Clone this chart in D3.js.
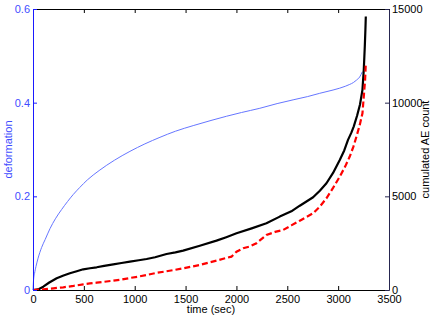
<!DOCTYPE html>
<html>
<head>
<meta charset="utf-8">
<script src="https://cdn.jsdelivr.net/npm/d3@7"></script>
<style>
html,body{margin:0;padding:0;background:#fff;}
svg{display:block;font-family:"Liberation Sans",Arial,Helvetica,sans-serif;}
</style>
</head>
<body>
<svg id="chart" width="436" height="318"></svg>
<script>
// ---- data ----
const xTicks = [0, 500, 1000, 1500, 2000, 2500, 3000, 3500];
const leftTicks = [0, 0.2, 0.4, 0.6];
const rightTicks = [0, 5000, 10000, 15000];

const defTime = [0, 5, 15, 29, 50, 85, 120, 167, 220, 282, 340, 396, 460, 534, 650, 800, 953, 1100, 1248, 1400, 1575, 1750, 1903, 2050, 2230, 2400, 2557, 2700, 2819, 2950, 3016, 3070, 3114, 3150, 3180, 3212, 3238];
const defValue = [0, 0.02, 0.035, 0.05, 0.068, 0.091, 0.108, 0.131, 0.152, 0.172, 0.189, 0.204, 0.219, 0.235, 0.255, 0.277, 0.296, 0.312, 0.326, 0.339, 0.351, 0.362, 0.371, 0.379, 0.388, 0.398, 0.406, 0.413, 0.420, 0.427, 0.431, 0.435, 0.439, 0.443, 0.448, 0.455, 0.466];

const aeTime = [0, 50, 101, 160, 233, 300, 363, 430, 494, 560, 626, 700, 789, 870, 953, 1040, 1117, 1200, 1313, 1400, 1476, 1640, 1804, 1900, 2001, 2150, 2295, 2426, 2540, 2623, 2754, 2820, 2885, 2950, 3016, 3060, 3097, 3130, 3153, 3186, 3215, 3239, 3252, 3262, 3268, 3272];
const aeCount = [0, 30, 176, 400, 625, 770, 892, 1000, 1105, 1160, 1212, 1290, 1371, 1440, 1514, 1590, 1656, 1750, 1923, 2010, 2100, 2360, 2634, 2820, 3028, 3290, 3562, 3917, 4200, 4500, 4950, 5300, 5697, 6250, 6944, 7450, 8013, 8400, 8725, 9300, 9900, 10684, 11752, 13000, 13889, 14600];

const ae2Time = [0, 100, 200, 298, 400, 494, 560, 626, 700, 789, 870, 953, 1040, 1117, 1200, 1313, 1400, 1476, 1560, 1640, 1720, 1804, 1880, 1951, 2001, 2066, 2130, 2197, 2295, 2380, 2459, 2540, 2623, 2754, 2820, 2885, 2950, 3016, 3070, 3114, 3150, 3180, 3212, 3239, 3252, 3265, 3272];
const ae2Count = [0, 40, 90, 144, 220, 304, 350, 390, 440, 497, 560, 641, 720, 801, 900, 1000, 1080, 1159, 1250, 1335, 1450, 1565, 1680, 1779, 2046, 2228, 2320, 2495, 2938, 3100, 3205, 3450, 3700, 4095, 4450, 4897, 5450, 6053, 6600, 7122, 7650, 8190, 8800, 9437, 10326, 11218, 12110];

// ---- layout ----
const L = 33, R = 389, T = 9, B = 290;
const svg = d3.select("#chart");
const x = d3.scaleLinear().domain([0, 3500]).range([L, R]);
const yL = d3.scaleLinear().domain([0, 0.6]).range([B, T]);
const yR = d3.scaleLinear().domain([0, 15000]).range([B, T]);

const blueAxis = "#1a1aff", blueText = "#3f4dff";

// lines
const line = (xs, ys, sc, curve) => d3.line().curve(curve).x((d, i) => x(xs[i])).y((d, i) => sc(ys[i]))(ys);

svg.append("path").attr("d", line(defTime, defValue, yL, d3.curveMonotoneX))
  .attr("fill", "none").attr("stroke", "#6676ff").attr("stroke-width", 1);
svg.append("path").attr("d", line(aeTime, aeCount, yR, d3.curveLinear))
  .attr("fill", "none").attr("stroke", "#000").attr("stroke-width", 2.2).attr("stroke-linejoin", "round");
svg.append("path").attr("d", line(ae2Time, ae2Count, yR, d3.curveLinear))
  .attr("fill", "none").attr("stroke", "#ff0000").attr("stroke-width", 2.2).attr("stroke-dasharray", "6,3");

// axes
function style(g, color, textColor) {
  g.selectAll(".domain").attr("stroke", color).attr("stroke-width", 1);
  g.selectAll(".tick line").attr("stroke", color);
  g.selectAll(".tick text").attr("fill", textColor).style("font-size", "11px").style("font-family", "Liberation Sans, Arial, sans-serif");
}

const gTop = svg.append("g").attr("transform", `translate(0,${T})`)
  .call(d3.axisTop(x).tickValues(xTicks).tickSizeInner(-4).tickSizeOuter(0).tickFormat(""));
style(gTop, "#000", "#000");

const gBottom = svg.append("g").attr("transform", `translate(0,${B})`)
  .call(d3.axisBottom(x).tickValues(xTicks).tickSizeInner(-4).tickSizeOuter(0).tickPadding(5).tickFormat(d3.format("d")));
style(gBottom, "#000", "#000");

const gRight = svg.append("g").attr("transform", `translate(${R},0)`)
  .call(d3.axisRight(yR).tickValues(rightTicks).tickSizeInner(-4).tickSizeOuter(0).tickPadding(3).tickFormat(d3.format("d")));
style(gRight, "#262650", "#000");

const gLeft = svg.append("g").attr("transform", `translate(${L},0)`)
  .call(d3.axisLeft(yL).tickValues(leftTicks).tickSizeInner(-4).tickSizeOuter(0).tickPadding(3).tickFormat(d => d === 0 ? "0" : d3.format(".1f")(d)));
style(gLeft, blueAxis, blueText);

// labels
svg.append("text").attr("x", (L + R) / 2).attr("y", 313).attr("text-anchor", "middle")
  .style("font-size", "11px").text("time (sec)");
svg.append("text").attr("transform", `translate(12,${(T + B) / 2}) rotate(-90)`).attr("text-anchor", "middle")
  .attr("fill", blueText).style("font-size", "11px").text("deformation");
svg.append("text").attr("transform", `translate(429,${(T + B) / 2}) rotate(-90)`).attr("text-anchor", "middle")
  .attr("fill", "#000").style("font-size", "11px").text("cumulated AE count");
</script>
</body>
</html>
